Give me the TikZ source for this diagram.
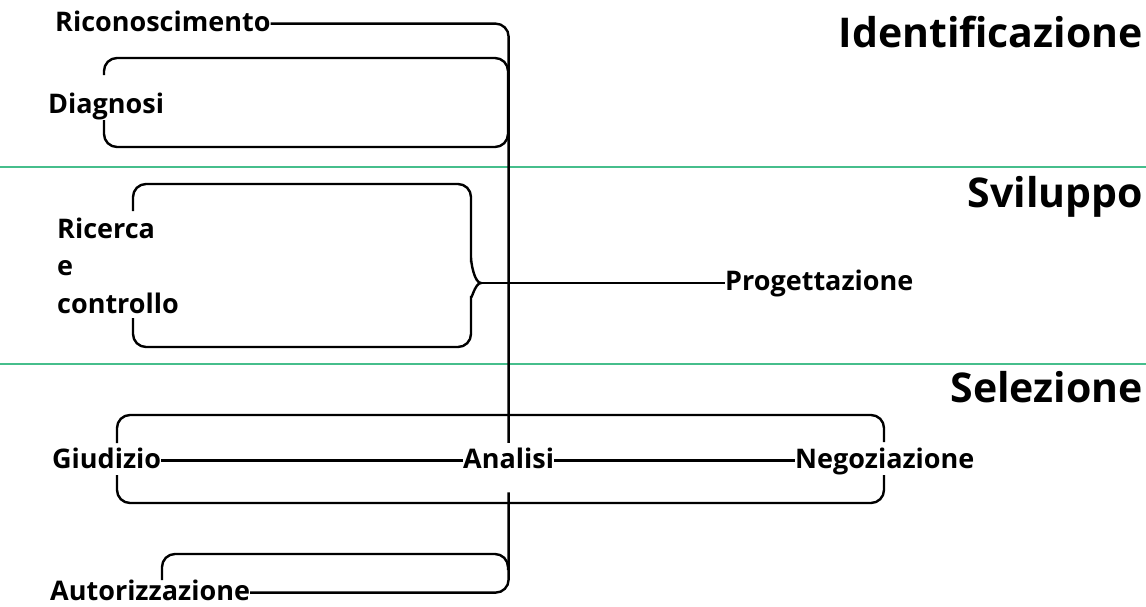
\documentclass[tikz,border=0pt]{standalone}
\usepackage{fontspec}
\setmainfont{Open Sans}
\usetikzlibrary{positioning}

\definecolor{sepgreen}{RGB}{70,190,140}

\tikzset{
    lbl/.style = {inner sep=0pt, anchor=base west, font=\fontsize{27}{37.5}\selectfont\bfseries},
    ttl/.style = {inner sep=0pt, anchor=base east, font=\fontsize{41}{48}\selectfont\bfseries},
    sep/.style = {draw=sepgreen, line width=2.4pt},
    brk/.style = {line width=2.4pt, rounded corners=13pt},
    con/.style = {line width=2.4pt}
}

\begin{document}
\begin{tikzpicture}[x=1pt, y=-1pt]
    \fontsize{27}{37.5}\selectfont\bfseries
    \useasboundingbox (0,0) rectangle (1146,606);

    \draw[sep] (0,167) -- (1146,167);
    \draw[sep] (0,364) -- (1146,364);

    \node[ttl] (ident) at (1143,47) {Identificazione};
    \node[ttl] (svil) at (1143,207) {Sviluppo};
    \node[ttl] (selez) at (1143,402) {Selezione};

    \node[lbl] (ric) at (55,31) {Riconoscimento};
    \node[lbl] (diag) at (48,113) {Diagnosi};
    \node[lbl, align=left] (ricerca) at (57,313) {Ricerca\\e\\controllo};
    \node[lbl] (prog) at (725,290) {Progettazione};
    \node[lbl] (giud) at (52,468) {Giudizio};
    \node[lbl] (anal) at (463,468) {Analisi};
    \node[lbl] (nego) at (795,468) {Negoziazione};
    \node[lbl] (aut) at (50,600) {Autorizzazione};

    % brackets
    \draw[brk] (104,75) |- (508,58) -- (508,147) -| (104,120);
    \draw[brk] (133,211) |- (471,184) -- (471,270) [sharp corners]
        to[out=90, in=180] (481,283) to[out=180, in=-90] (471,296)
        [rounded corners=13pt] |- (133,347) -- (133,318);
    \draw[brk] (117,443) |- (884,415) -- (884,442);
    \draw[brk] (117,475) |- (884,503) -- (884,475);
    \draw[brk] (162,580) |- (508,554) -- (508,570);

    \coordinate (tip) at (481,283);

    \draw[con, rounded corners=13pt] (ric.mid east) -| ([yshift=4.5pt]anal.north);
    \draw[con, rounded corners=13pt] ([yshift=-24pt]anal.south) |- (aut.mid east);
    \draw[con] (tip) -- (tip -| prog.west);
    \draw[con] (giud.mid east) -- (anal.mid west);
    \draw[con] (anal.mid east) -- (nego.mid west);
\end{tikzpicture}
\end{document}
